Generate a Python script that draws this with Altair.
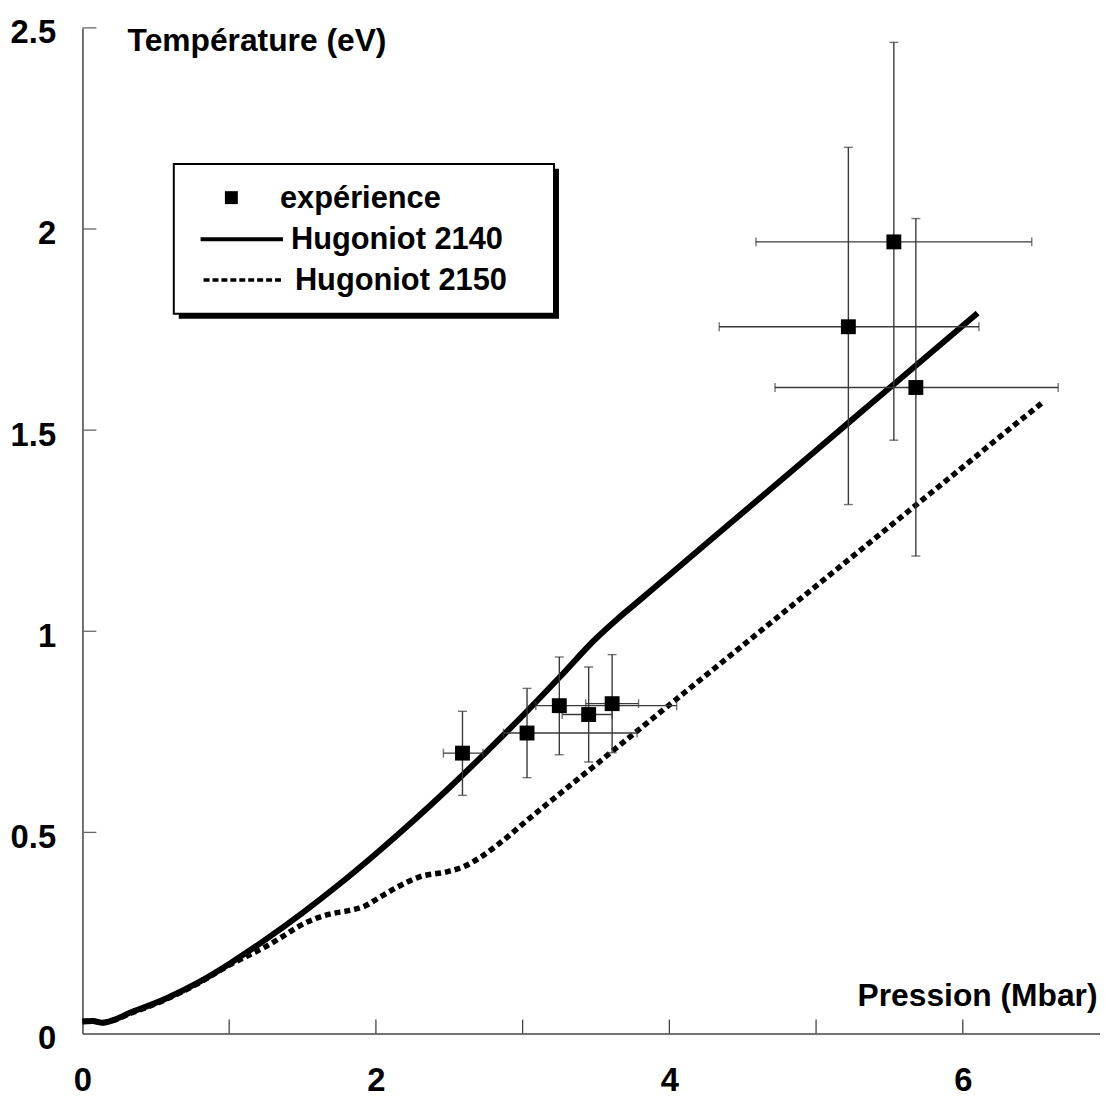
import altair as alt
import pandas as pd

# ---- data ----
# Hugoniot 2140 (solid)
SOLID_P = [0.0, 0.07, 0.135, 0.34, 0.57, 0.79, 1.0, 1.25, 1.5, 1.75, 2.0, 2.25, 2.5, 2.75, 3.0, 3.25,
           3.5, 3.65, 3.8, 4.0, 4.63, 5.22, 5.53, 6.10]
SOLID_T = [0.030, 0.031, 0.027, 0.054, 0.087, 0.127, 0.173, 0.234, 0.300, 0.371, 0.447, 0.527, 0.611, 0.699,
           0.790, 0.885, 0.982, 1.032, 1.078, 1.140, 1.335, 1.518, 1.614, 1.791]

# Hugoniot 2150 (dotted)
DOT_P = [0.0, 0.07, 0.135, 0.34, 0.57, 0.79, 1.0, 1.13, 1.243, 1.355, 1.468, 1.581, 1.70, 1.806, 1.919, 2.032, 2.167,
         2.302, 2.483, 2.60, 2.72, 2.833, 3.047, 3.273, 3.498, 3.723, 3.949, 4.175, 4.40, 4.626, 4.84, 5.30,
         5.753, 5.979, 6.204, 6.554]
DOT_T = [0.030, 0.031, 0.027, 0.052, 0.085, 0.125, 0.170, 0.194, 0.215, 0.239, 0.265, 0.285, 0.298, 0.305, 0.316, 0.340, 0.368,
         0.390, 0.402, 0.415, 0.440, 0.470, 0.535, 0.602, 0.668, 0.735, 0.802, 0.869, 0.935, 1.002, 1.065, 1.201,
         1.335, 1.402, 1.469, 1.572]

# experiment with error bars
EXP_P = [2.59, 3.03, 3.25, 3.45, 3.61, 5.22, 5.53, 5.68]
EXP_T = [0.697, 0.747, 0.815, 0.793, 0.820, 1.757, 1.968, 1.606]
EXP_P_LO = [2.46, 2.87, 3.09, 3.27, 3.43, 4.34, 4.59, 4.72]
EXP_P_HI = [2.73, 3.78, 4.05, 3.61, 3.79, 6.11, 6.47, 6.65]
EXP_T_LO = [0.592, 0.636, 0.693, 0.675, 0.698, 1.315, 1.475, 1.187]
EXP_T_HI = [0.801, 0.858, 0.936, 0.911, 0.942, 2.203, 2.464, 2.026]

X_LABELS = [0, 2, 4, 6]
X_TICKS = [1, 2, 3, 4, 5, 6]
Y_TICKS = [0, 0.5, 1, 1.5, 2, 2.5]
LEGEND_LABELS = ["expérience", "Hugoniot 2140", "Hugoniot 2150"]
X_TITLE = "Pression (Mbar)"
Y_TITLE = "Température (eV)"

FONT = "Liberation Sans"
W, H = 1025, 1013

solid = pd.DataFrame({"p": SOLID_P, "t": SOLID_T})
dotted = pd.DataFrame({"p": DOT_P, "t": DOT_T})
exp = pd.DataFrame({"p": EXP_P, "t": EXP_T, "plo": EXP_P_LO, "phi": EXP_P_HI,
                    "tlo": EXP_T_LO, "thi": EXP_T_HI})
xt = pd.DataFrame({"v": X_TICKS})
yt = pd.DataFrame({"v": Y_TICKS[1:]})
one = pd.DataFrame({"a": [0]})

xscale = alt.Scale(domain=[0, 6.935], nice=False, zero=False)
yscale = alt.Scale(domain=[0, 2.5], nice=False, zero=False)

xaxis = alt.Axis(values=X_LABELS, ticks=False, tickSize=0, grid=False, labelPadding=31,
                 labelExpr="'' + datum.value",
                 labelFont=FONT, labelFontWeight="bold", labelFontSize=33, labelColor="black",
                 domainColor="#444", domainWidth=1.5, labelFlush=False,
                 title=X_TITLE, titleFont=FONT, titleFontWeight="bold", titleFontSize=32,
                 titleColor="black", titleAlign="right", titleBaseline="middle",
                 titleX=1022, titleY=-38, titleAngle=0)
yaxis = alt.Axis(values=Y_TICKS, ticks=False, tickSize=0, grid=False, labelPadding=27,
                 labelOffset=5, labelExpr="'' + datum.value",
                 labelFont=FONT, labelFontWeight="bold", labelFontSize=33, labelColor="black",
                 domainColor="#444", domainWidth=1.5, labelFlush=False,
                 title=Y_TITLE, titleFont=FONT, titleFontWeight="bold", titleFontSize=32,
                 titleColor="black", titleAlign="left", titleBaseline="middle",
                 titleX=45, titleY=13, titleAngle=0)

X = alt.X("p:Q", scale=xscale, axis=xaxis)
Y = alt.Y("t:Q", scale=yscale, axis=yaxis)

line1 = alt.Chart(solid).mark_line(color="black", strokeWidth=6, interpolate="monotone").encode(x=X, y=Y)
line2 = alt.Chart(dotted).mark_line(color="black", strokeWidth=5.5, strokeDash=[6, 4],
                                    interpolate="monotone").encode(x="p:Q", y="t:Q")

ebar_color = "#3a3a3a"
vbars = alt.Chart(exp).mark_rule(color=ebar_color, strokeWidth=1.4).encode(
    x="p:Q", y="tlo:Q", y2="thi:Q")
hbars = alt.Chart(exp).mark_rule(color=ebar_color, strokeWidth=1.4).encode(
    x="plo:Q", x2="phi:Q", y="t:Q")
cap_lo = alt.Chart(exp).mark_tick(color=ebar_color, orient="horizontal", size=9, thickness=1.4).encode(
    x="p:Q", y="tlo:Q")
cap_hi = alt.Chart(exp).mark_tick(color=ebar_color, orient="horizontal", size=9, thickness=1.4).encode(
    x="p:Q", y="thi:Q")
cap_l = alt.Chart(exp).mark_tick(color=ebar_color, orient="vertical", size=9, thickness=1.4).encode(
    x="plo:Q", y="t:Q")
cap_r = alt.Chart(exp).mark_tick(color=ebar_color, orient="vertical", size=9, thickness=1.4).encode(
    x="phi:Q", y="t:Q")
pts = alt.Chart(exp).mark_square(color="black", size=225, opacity=1).encode(x="p:Q", y="t:Q")

# inward axis ticks
xticks = alt.Chart(xt).mark_rule(color="#444", strokeWidth=1.3).encode(
    x="v:Q", y=alt.value(H), y2=alt.value(H - 14))
yticks = alt.Chart(yt).mark_rule(color="#666", strokeWidth=1.3).encode(
    y="v:Q", x=alt.value(0), x2=alt.value(14))

# legend box
shadow = alt.Chart(one).mark_rect(color="black").encode(
    x=alt.value(97), x2=alt.value(480), y=alt.value(142), y2=alt.value(293))
box = alt.Chart(one).mark_rect(fill="white", stroke="black", strokeWidth=2).encode(
    x=alt.value(92), x2=alt.value(475), y=alt.value(137), y2=alt.value(288))
leg_sq = alt.Chart(one).mark_square(color="black", size=170, opacity=1).encode(
    x=alt.value(150), y=alt.value(171))
leg_l1 = alt.Chart(one).mark_rule(color="black", strokeWidth=4).encode(
    x=alt.value(119), x2=alt.value(202), y=alt.value(213))
leg_l2 = alt.Chart(one).mark_rule(color="black", strokeWidth=3.5, strokeDash=[6, 3]).encode(
    x=alt.value(122), x2=alt.value(202), y=alt.value(254))

def leg_text(label, x, y):
    return alt.Chart(one).mark_text(align="left", baseline="middle", font=FONT, fontWeight="bold",
                                    fontSize=31, color="black").encode(
        x=alt.value(x), y=alt.value(y), text=alt.value(label))

t1 = leg_text(LEGEND_LABELS[0], 199, 172)
t2 = leg_text(LEGEND_LABELS[1], 210, 214)
t3 = leg_text(LEGEND_LABELS[2], 214, 255)

chart = alt.layer(
    line1, line2, vbars, hbars, cap_lo, cap_hi, cap_l, cap_r, pts, xticks, yticks,
    shadow, box, leg_sq, leg_l1, leg_l2, t1, t2, t3
).properties(
    width=W, height=H,
    autosize=alt.AutoSizeParams(type="none"),
    padding={"left": 75, "top": 16, "right": 0, "bottom": 70},
    background="white",
).configure_view(stroke=None)

chart.save("out.html", embed_options={"renderer": "svg", "actions": False})
